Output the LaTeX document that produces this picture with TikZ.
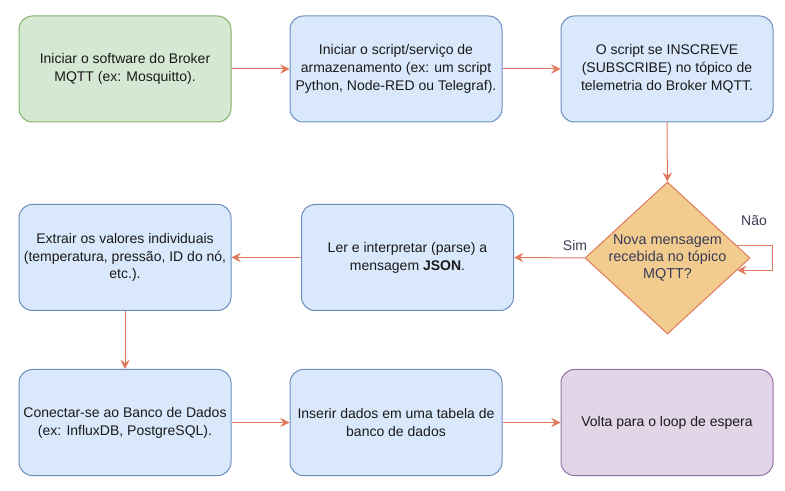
\documentclass[tikz,border=0pt]{standalone}
\usepackage{fontspec}
\setmainfont{Liberation Sans}
\usetikzlibrary{shapes.geometric,arrows.meta,calc}
\definecolor{gfill}{HTML}{D5E8D4}
\definecolor{gdraw}{HTML}{82B366}
\definecolor{bfill}{HTML}{DAE8FC}
\definecolor{bdraw}{HTML}{6C8EBF}
\definecolor{ofill}{HTML}{F2CC8F}
\definecolor{odraw}{HTML}{E07A5F}
\definecolor{pfill}{HTML}{E1D5E7}
\definecolor{pdraw}{HTML}{9673A6}
\definecolor{arrcol}{HTML}{E07A5F}
\definecolor{txt}{HTML}{1A1A1A}
\definecolor{lbl}{HTML}{393C56}
\begin{document}
\begin{tikzpicture}[x=0.75pt,y=-0.75pt,
  box/.style={rounded corners=10pt, minimum width=159pt, minimum height=79.5pt,
    line width=0.75pt, align=center, font=\fontsize{10.5}{13.4}\selectfont,
    text=txt, inner sep=0pt},
  gbox/.style={box, fill=gfill, draw=gdraw},
  bbox/.style={box, fill=bfill, draw=bdraw},
  pbox/.style={box, fill=pfill, draw=pdraw},
  decshape/.style={diamond, fill=ofill, draw=odraw, line width=0.75pt,
    minimum width=123.75pt, minimum height=114pt, inner sep=0pt},
  dectxt/.style={align=center, font=\fontsize{10.8}{13}\selectfont, text=lbl, inner sep=0pt},
  lab/.style={font=\fontsize{10.5}{12}\selectfont, text=lbl, inner sep=0pt},
  arr/.style={draw=arrcol, line width=0.75pt, -{Stealth[length=7pt,width=7pt,inset=2.5pt]}}
]
\useasboundingbox (0,0) rectangle (785,491);
\node[gbox] (b1) at (125,69) {Iniciar o software do Broker\\MQTT (ex: Mosquitto).};
\node[bbox] (b2) at (396,69) {Iniciar o script/serviço de\\armazenamento (ex: um script\\Python, Node-RED ou Telegraf).};
\node[bbox] (b3) at (667,69) {O script se INSCREVE\\(SUBSCRIBE) no tópico de\\telemetria do Broker MQTT.};
\node[decshape] (dec) at (667.5,258) {};
\node[dectxt] (dect) at (667.5,258) {Nova mensagem\\recebida no tópico\\MQTT?};
\node[bbox] (b4) at (407.5,257.5) {Ler e interpretar (parse) a\\mensagem \textbf{JSON}.};
\node[bbox] (b5) at (125,257.5) {Extrair os valores individuais\\(temperatura, pressão, ID do nó,\\etc.).};
\node[bbox] (b6) at (125,422.5) {Conectar-se ao Banco de Dados\\(ex: InfluxDB, PostgreSQL).};
\node[bbox] (b7) at (396,422.5) {Inserir dados em uma tabela de\\banco de dados};
\node[pbox] (b8) at (667,422.5) {Volta para o loop de espera};
\node[lab] (sim) at (575,245) {Sim};
\node[lab] (nao) at (754,221) {Não};
\draw[arr] (b1) -- (b2);
\draw[arr] (b2) -- (b3);
\draw[arr] (b3) -- (dec);
\draw[arr] (dec.west) -- (b4.east);
\draw[arr] (dec.10) -- ++(35,0) |- (dec.-10);
\draw[arr] (b4) -- (b5);
\draw[arr] (b5) -- (b6);
\draw[arr] (b6) -- (b7);
\draw[arr] (b7) -- (b8);
\end{tikzpicture}
\end{document}
